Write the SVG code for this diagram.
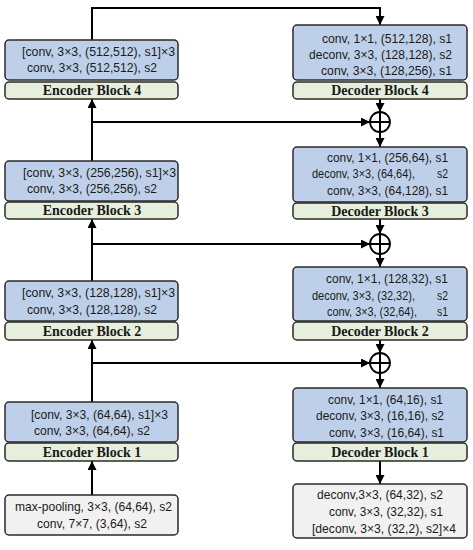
<svg xmlns="http://www.w3.org/2000/svg" width="473" height="550" viewBox="0 0 473 550">
<style>
.blue{fill:#bed0e9;stroke:#2a2a2a;stroke-width:1.5}
.green{fill:#e6efdc;stroke:#2a2a2a;stroke-width:1.5}
.gray{fill:#f1f1f1;stroke:#2a2a2a;stroke-width:1.5}
.t{font-family:"Liberation Sans Narrow","Liberation Sans",Arial,sans-serif;font-size:13px;fill:#1a1a1a}
.lbl{font-family:"Liberation Serif","Times New Roman",serif;font-size:14px;font-weight:bold;fill:#1a1a1a;text-anchor:middle}
.ln{stroke:#000;stroke-width:2;fill:none}
.sum{fill:#fff;stroke:#000;stroke-width:1.8}
</style>
<defs>
<marker id="ah" viewBox="0 0 10 10" refX="10" refY="5" markerWidth="9" markerHeight="9" markerUnits="userSpaceOnUse" orient="auto">
<path d="M0,0 L10,5 L0,10 z" fill="#000"/>
</marker>
</defs>

<g id="connectors">
<path class="ln" d="M92,40 V8 H380 V25" marker-end="url(#ah)"/>
<path class="ln" d="M92,495 V461" marker-end="url(#ah)"/>
<path class="ln" d="M92,402 V340" marker-end="url(#ah)"/>
<path class="ln" d="M92,281 V219" marker-end="url(#ah)"/>
<path class="ln" d="M92,161 V99" marker-end="url(#ah)"/>
<path class="ln" d="M92,122 H370" marker-end="url(#ah)"/>
<path class="ln" d="M92,244 H370" marker-end="url(#ah)"/>
<path class="ln" d="M92,363 H370" marker-end="url(#ah)"/>
<path class="ln" d="M380,99 V112" marker-end="url(#ah)"/>
<path class="ln" d="M380,132 V147" marker-end="url(#ah)"/>
<path class="ln" d="M380,219 V234" marker-end="url(#ah)"/>
<path class="ln" d="M380,254 V267" marker-end="url(#ah)"/>
<path class="ln" d="M380,340 V353" marker-end="url(#ah)"/>
<path class="ln" d="M380,373 V388" marker-end="url(#ah)"/>
<path class="ln" d="M380,461 V484" marker-end="url(#ah)"/>
</g>

<g id="sum4"><circle class="sum" cx="380" cy="122" r="10"/><path class="ln" stroke-width="1.5" d="M370,122 H390 M380,112 V132"/></g>
<g id="sum3"><circle class="sum" cx="380" cy="244" r="10"/><path class="ln" stroke-width="1.5" d="M370,244 H390 M380,234 V254"/></g>
<g id="sum2"><circle class="sum" cx="380" cy="363" r="10"/><path class="ln" stroke-width="1.5" d="M370,363 H390 M380,353 V373"/></g>

<g id="encoder4">
<rect class="blue" x="5" y="40" width="173" height="40" rx="4"/>
<rect class="green" x="5" y="82" width="173" height="17" rx="4"/>
<text class="t" x="22" y="56" textLength="153" lengthAdjust="spacingAndGlyphs">[conv, 3×3, (512,512), s1]×3</text>
<text class="t" x="27" y="72" textLength="130" lengthAdjust="spacingAndGlyphs">conv, 3×3, (512,512), s2</text>
<text class="lbl" x="92" y="95">Encoder Block 4</text>
</g>

<g id="encoder3">
<rect class="blue" x="5" y="161" width="173" height="40" rx="4"/>
<rect class="green" x="5" y="202" width="173" height="17" rx="4"/>
<text class="t" x="23" y="177" textLength="153" lengthAdjust="spacingAndGlyphs">[conv, 3×3, (256,256), s1]×3</text>
<text class="t" x="27" y="193" textLength="130" lengthAdjust="spacingAndGlyphs">conv, 3×3, (256,256), s2</text>
<text class="lbl" x="92" y="215">Encoder Block 3</text>
</g>

<g id="encoder2">
<rect class="blue" x="5" y="281" width="173" height="40" rx="4"/>
<rect class="green" x="5" y="322" width="173" height="18" rx="4"/>
<text class="t" x="22" y="297" textLength="153" lengthAdjust="spacingAndGlyphs">[conv, 3×3, (128,128), s1]×3</text>
<text class="t" x="27" y="314" textLength="130" lengthAdjust="spacingAndGlyphs">conv, 3×3, (128,128), s2</text>
<text class="lbl" x="92" y="336">Encoder Block 2</text>
</g>

<g id="encoder1">
<rect class="blue" x="5" y="402" width="173" height="40" rx="4"/>
<rect class="green" x="5" y="443" width="173" height="18" rx="4"/>
<text class="t" x="31" y="419" textLength="137" lengthAdjust="spacingAndGlyphs">[conv, 3×3, (64,64), s1]×3</text>
<text class="t" x="34" y="435" textLength="116" lengthAdjust="spacingAndGlyphs">conv, 3×3, (64,64), s2</text>
<text class="lbl" x="92" y="457">Encoder Block 1</text>
</g>

<g id="stem">
<rect class="gray" x="5" y="495" width="173" height="40" rx="4"/>
<text class="t" x="15" y="511" textLength="157" lengthAdjust="spacingAndGlyphs">max-pooling, 3×3, (64,64), s2</text>
<text class="t" x="37" y="528" textLength="110" lengthAdjust="spacingAndGlyphs">conv, 7×7, (3,64), s2</text>
</g>

<g id="decoder4">
<rect class="blue" x="293" y="25" width="174" height="55" rx="4"/>
<rect class="green" x="293" y="82" width="174" height="17" rx="4"/>
<text class="t" x="322" y="43" textLength="130" lengthAdjust="spacingAndGlyphs">conv, 1×1, (512,128), s1</text>
<text class="t" x="309" y="59" textLength="143" lengthAdjust="spacingAndGlyphs">deconv, 3×3, (128,128), s2</text>
<text class="t" x="321" y="75" textLength="131" lengthAdjust="spacingAndGlyphs">conv, 3×3, (128,256), s1</text>
<text class="lbl" x="380" y="95">Decoder Block 4</text>
</g>

<g id="decoder3">
<rect class="blue" x="293" y="147" width="174" height="55" rx="4"/>
<rect class="green" x="293" y="203" width="174" height="16" rx="4"/>
<text class="t" x="327" y="162" textLength="121" lengthAdjust="spacingAndGlyphs">conv, 1×1, (256,64), s1</text>
<text class="t" x="312" y="178" textLength="103" lengthAdjust="spacingAndGlyphs">deconv, 3×3, (64,64),</text>
<text class="t" x="437" y="178" textLength="11" lengthAdjust="spacingAndGlyphs">s2</text>
<text class="t" x="327" y="195" textLength="121" lengthAdjust="spacingAndGlyphs">conv, 3×3, (64,128), s1</text>
<text class="lbl" x="380" y="216">Decoder Block 3</text>
</g>

<g id="decoder2">
<rect class="blue" x="293" y="267" width="174" height="54" rx="4"/>
<rect class="green" x="293" y="322" width="174" height="18" rx="4"/>
<text class="t" x="326" y="283" textLength="122" lengthAdjust="spacingAndGlyphs">conv, 1×1, (128,32), s1</text>
<text class="t" x="312" y="300" textLength="103" lengthAdjust="spacingAndGlyphs">deconv, 3×3, (32,32),</text>
<text class="t" x="437" y="300" textLength="11" lengthAdjust="spacingAndGlyphs">s2</text>
<text class="t" x="327" y="316" textLength="90" lengthAdjust="spacingAndGlyphs">conv, 3×3, (32,64),</text>
<text class="t" x="437" y="316" textLength="11" lengthAdjust="spacingAndGlyphs">s1</text>
<text class="lbl" x="380" y="336">Decoder Block 2</text>
</g>

<g id="decoder1">
<rect class="blue" x="293" y="388" width="174" height="54" rx="4"/>
<rect class="green" x="293" y="443" width="174" height="18" rx="4"/>
<text class="t" x="328" y="404" textLength="115" lengthAdjust="spacingAndGlyphs">conv, 1×1, (64,16), s1</text>
<text class="t" x="316" y="420" textLength="128" lengthAdjust="spacingAndGlyphs">deconv, 3×3, (16,16), s2</text>
<text class="t" x="329" y="437" textLength="115" lengthAdjust="spacingAndGlyphs">conv, 3×3, (16,64), s1</text>
<text class="lbl" x="380" y="457">Decoder Block 1</text>
</g>

<g id="head">
<rect class="gray" x="293" y="484" width="174" height="54" rx="4"/>
<text class="t" x="317" y="499" textLength="126" lengthAdjust="spacingAndGlyphs">deconv,3×3, (64,32), s2</text>
<text class="t" x="329" y="516" textLength="114" lengthAdjust="spacingAndGlyphs">conv, 3×3, (32,32), s1</text>
<text class="t" x="312" y="533" textLength="144" lengthAdjust="spacingAndGlyphs">[deconv, 3×3, (32,2), s2]×4</text>
</g>
</svg>
